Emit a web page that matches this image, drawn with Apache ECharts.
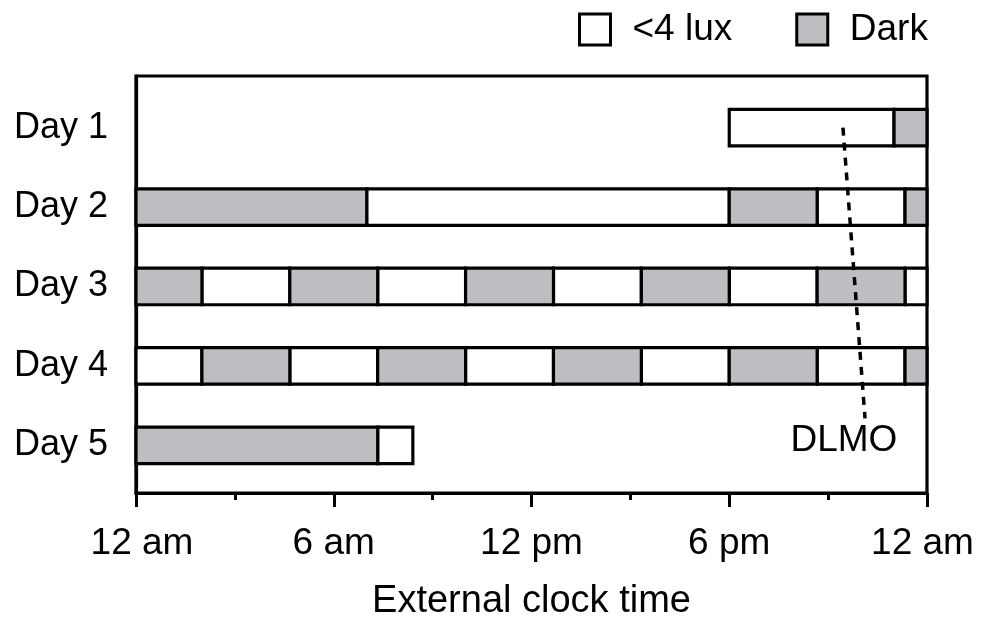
<!DOCTYPE html>
<html>
<head>
<meta charset="utf-8">
<script src="https://cdn.jsdelivr.net/npm/echarts@6/dist/echarts.min.js"></script>
<style>html,body{margin:0;padding:0;background:#fff}#c{width:981px;height:620px}</style>
</head>
<body>
<div id="c"></div>
<script>
// ---- data ----
const days = ['Day 1', 'Day 2', 'Day 3', 'Day 4', 'Day 5'];
// segments: [dayIndex (1-based), startHour, endHour]
const luxSegments = [
  [1, 18, 23],
  [2, 7, 18], [2, 20.667, 23.333],
  [3, 2, 4.667], [3, 7.333, 10], [3, 12.667, 15.333], [3, 18, 20.667], [3, 23.333, 24],
  [4, 0, 2], [4, 4.667, 7.333], [4, 10, 12.667], [4, 15.333, 18], [4, 20.667, 23.333],
  [5, 7.333, 8.4]
];
const darkSegments = [
  [1, 23, 24],
  [2, 0, 7], [2, 18, 20.667], [2, 23.333, 24],
  [3, 0, 2], [3, 4.667, 7.333], [3, 10, 12.667], [3, 15.333, 18], [3, 20.667, 23.333],
  [4, 2, 4.667], [4, 7.333, 10], [4, 12.667, 15.333], [4, 18, 20.667], [4, 23.333, 24],
  [5, 0, 7.333]
];
const xTickValues = [0, 6, 12, 18, 24];
const xTickLabels = ['12 am', '6 am', '12 pm', '6 pm', '12 am'];
const dlmoLine = [[21.45, 1.0], [22.12, 4.66]];
const dlmoLabelPos = [21.48, 4.94];

// ---- chart ----
const FONT = '"Liberation Sans", Arial, sans-serif';
const GRAY = '#bdbec2';
const chart = echarts.init(document.getElementById('c'), null, {renderer: 'canvas'});

function segRender(fill) {
  return function (params, api) {
    const day = api.value(0);
    const p0 = api.coord([api.value(1), day]);
    const p1 = api.coord([api.value(2), day]);
    const h = api.size([0, 1])[1] * 0.46;
    return {
      type: 'rect',
      shape: {x: p0[0], y: p0[1] - h / 2, width: p1[0] - p0[0], height: h},
      style: {fill: fill, stroke: '#000', lineWidth: 3.2}
    };
  };
}

chart.setOption({
  animation: false,
  backgroundColor: '#fff',
  textStyle: {fontFamily: FONT},
  legend: {
    left: 578, top: 11, padding: 0,
    itemWidth: 31, itemHeight: 31, itemGap: 63,
    textStyle: {fontSize: 37, color: '#000', fontFamily: FONT, padding: [0, 0, 0, 17]},
    data: [
      {name: '<4 lux', icon: 'rect', itemStyle: {color: '#fff', borderColor: '#000', borderWidth: 3}},
      {name: 'Dark', icon: 'rect', itemStyle: {color: GRAY, borderColor: '#000', borderWidth: 3}}
    ]
  },
  grid: {left: 136, right: 54, top: 76, bottom: 127, outerBoundsMode: 'none', containLabel: false,
         show: true, borderColor: '#000', borderWidth: 3.2, backgroundColor: 'transparent'},
  xAxis: {
    type: 'value', min: 0, max: 24, interval: 6,
    name: 'External clock time', nameLocation: 'middle', nameGap: 90,
    nameTextStyle: {fontSize: 38, color: '#000', fontFamily: FONT},
    axisLine: {show: true, lineStyle: {color: '#000', width: 3.2}},
    axisTick: {show: true, length: 14, lineStyle: {color: '#000', width: 3}},
    minorTick: {show: true, splitNumber: 2, length: 7, lineStyle: {color: '#000', width: 3}},
    splitLine: {show: false},
    axisLabel: {
      fontSize: 37, color: '#000', fontFamily: FONT, margin: 32,
      formatter: function (v) {
        const i = xTickValues.indexOf(v);
        if (i < 0) return '';
        if (i === 0) return '{first|' + xTickLabels[i] + '}';
        if (i === xTickValues.length - 1) return '{last|' + xTickLabels[i] + '}';
        return xTickLabels[i];
      },
      rich: {
        first: {fontSize: 37, color: '#000', fontFamily: FONT, padding: [0, 0, 0, 12]},
        last: {fontSize: 37, color: '#000', fontFamily: FONT, padding: [0, 9, 0, 0]}
      }
    }
  },
  yAxis: {
    type: 'value', min: 0.35, max: 5.6, inverse: true,
    axisLine: {show: true, lineStyle: {color: '#000', width: 3.2}},
    axisTick: {show: false},
    splitLine: {show: false},
    axisLabel: {
      fontSize: 36, color: '#000', fontFamily: FONT, margin: 28,
      customValues: [1, 2, 3, 4, 5],
      formatter: function (v) { return days[Math.round(v) - 1] || ''; }
    }
  },
  series: [
    {name: '<4 lux', type: 'custom', renderItem: segRender('#fff'), data: luxSegments,
     itemStyle: {color: '#fff', borderColor: '#000', borderWidth: 3}, encode: {x: [1, 2], y: 0}},
    {name: 'Dark', type: 'custom', renderItem: segRender(GRAY), data: darkSegments,
     itemStyle: {color: GRAY, borderColor: '#000', borderWidth: 3}, encode: {x: [1, 2], y: 0}},
    {name: 'DLMO', type: 'line', data: dlmoLine, symbol: 'none', z: 5,
     lineStyle: {color: '#000', width: 3.5, type: [8, 7]}},
    {name: 'DLMOlabel', type: 'scatter', data: [dlmoLabelPos], symbolSize: 0, z: 6,
     itemStyle: {color: '#000', opacity: 1},
     emphasis: {disabled: true},
     label: {show: true, position: 'inside', formatter: 'DLMO', fontSize: 37, color: '#000',
             fontFamily: FONT, textBorderWidth: 0, textBorderColor: 'transparent', opacity: 1}}
  ]
});
</script>
</body>
</html>
